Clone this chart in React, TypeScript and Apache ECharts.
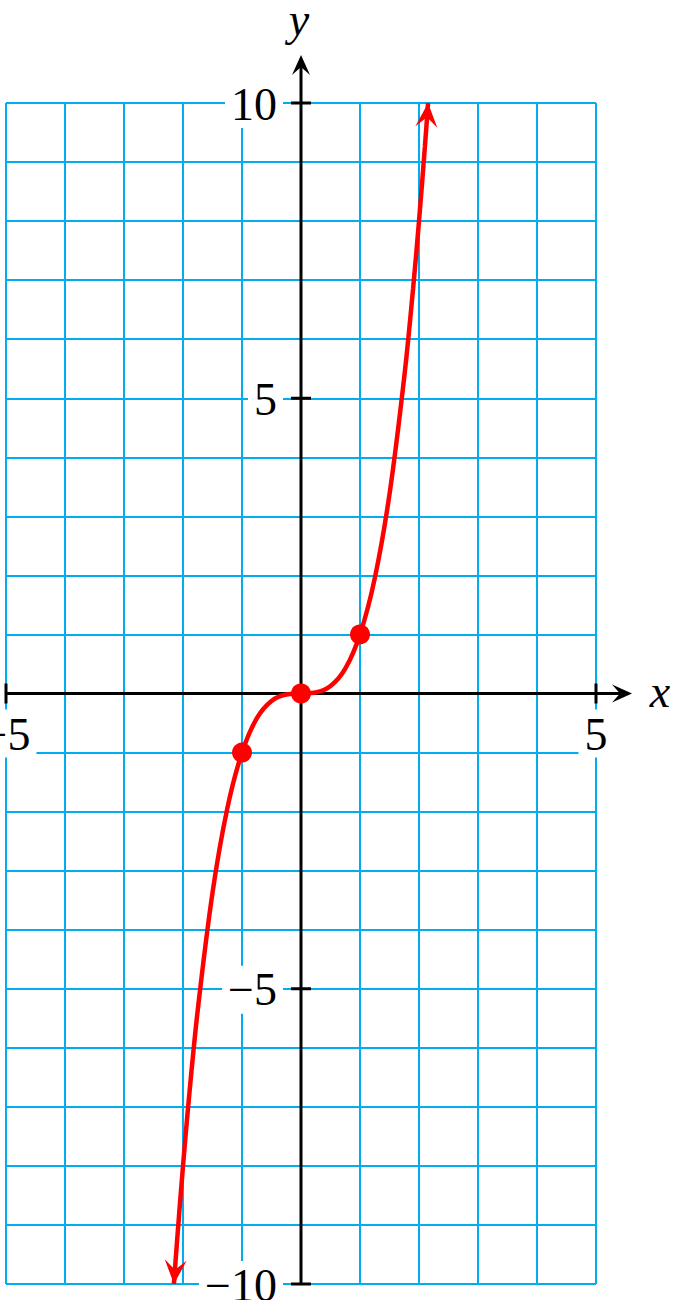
import React, { useEffect, useRef } from "react";
import * as echarts from "echarts";

// Axis ranges and labelled ticks
const xRange = [-5, 5];
const yRange = [-10, 10];
const xLabelTicks = [-5, 5];
const yLabelTicks = [-10, -5, 5, 10];

// Curve (y = x³ shape)
const curveX = [-2.154, -2.1, -2.0, -1.9, -1.75, -1.5, -1.25, -1.0, -0.75, -0.5, -0.25, 0, 0.25, 0.5, 0.75, 1.0, 1.25, 1.5, 1.75, 1.9, 2.0, 2.1, 2.154];
const curveY = [-10, -9.26, -8, -6.86, -5.36, -3.375, -1.95, -1, -0.42, -0.125, -0.016, 0, 0.016, 0.125, 0.42, 1, 1.95, 3.375, 5.36, 6.86, 8, 9.26, 10];

// Highlighted points
const pointX = [-1, 0, 1];
const pointY = [-1, 0, 1];

const FONT = "'Liberation Serif', 'DejaVu Serif', serif";
const GRID_BLUE = "#00AEEF";
const RED = "#FF0000";

function fmtNum(v: number) {
  return v < 0 ? "\u2212" + Math.abs(v) : String(v);
}

function arrowPoints(tip: number[], from: number[], L: number, W: number) {
  const dx = tip[0] - from[0];
  const dy = tip[1] - from[1];
  const len = Math.sqrt(dx * dx + dy * dy) || 1;
  const ux = dx / len, uy = dy / len;
  const nx = -uy, ny = ux;
  return [
    [tip[0], tip[1]],
    [tip[0] - L * ux + W * nx, tip[1] - L * uy + W * ny],
    [tip[0] - 0.6 * L * ux, tip[1] - 0.6 * L * uy],
    [tip[0] - L * ux - W * nx, tip[1] - L * uy - W * ny],
  ];
}

export default function App() {
  const ref = useRef<HTMLDivElement>(null);

  useEffect(() => {
    if (!ref.current) return;
    const chart = echarts.init(ref.current, undefined, { renderer: "svg" });

    const curveData = curveX.map((x, i) => [x, curveY[i]]);
    const n = curveX.length;
    const endArrows = [
      [curveX[n - 1], curveY[n - 1], curveX[n - 2], curveY[n - 2]],
      [curveX[0], curveY[0], curveX[1], curveY[1]],
    ];

    const labelStyle = {
      font: "46px " + FONT,
      fill: "#000",
      backgroundColor: "#fff",
      padding: [2, 6, 0, 6],
    };

    chart.setOption({
      animation: false,
      grid: {
        left: 6,
        right: 83,
        top: 103,
        bottom: 16,
        containLabel: false,
        outerBoundsMode: "none",
      },
      xAxis: {
        type: "value",
        min: xRange[0],
        max: xRange[1],
        interval: 1,
        axisLine: { show: false },
        axisTick: { show: false },
        axisLabel: { show: false },
        splitLine: { show: true, lineStyle: { color: GRID_BLUE, width: 2 } },
      },
      yAxis: {
        type: "value",
        min: yRange[0],
        max: yRange[1],
        interval: 1,
        axisLine: { show: false },
        axisTick: { show: false },
        axisLabel: { show: false },
        splitLine: { show: true, lineStyle: { color: GRID_BLUE, width: 2 } },
      },
      series: [
        {
          type: "custom",
          clip: false,
          z: 2,
          silent: true,
          data: [[0]],
          renderItem: (params: any, api: any) => {
            const o = api.coord([0, 0]);
            const xl = api.coord([xRange[0], 0]);
            const xr = api.coord([xRange[1], 0]);
            const yb = api.coord([0, yRange[0]]);
            const yt = api.coord([0, yRange[1]]);
            const xTip = [xr[0] + 36, o[1]];
            const yTip = [o[0], yt[1] - 48];
            const children: any[] = [];
            const axisStyle = { stroke: "#000", lineWidth: 3 };
            // tick labels (white boxes over the grid)
            xLabelTicks.forEach((t) => {
              const p = api.coord([t, 0]);
              children.push({
                type: "text",
                x: p[0],
                y: o[1] + 16,
                style: { ...labelStyle, text: fmtNum(t), align: "center", verticalAlign: "top" },
              });
            });
            yLabelTicks.forEach((t) => {
              const p = api.coord([0, t]);
              children.push({
                type: "text",
                x: o[0] - 18,
                y: p[1] + 1,
                style: { ...labelStyle, text: fmtNum(t), align: "right", verticalAlign: "middle" },
              });
            });
            children.push({
              type: "line",
              shape: { x1: xl[0], y1: o[1], x2: xTip[0] - 8, y2: o[1] },
              style: axisStyle,
            });
            children.push({
              type: "line",
              shape: { x1: o[0], y1: yb[1], x2: o[0], y2: yTip[1] + 8 },
              style: axisStyle,
            });
            children.push({
              type: "polygon",
              shape: { points: arrowPoints(xTip, [xTip[0] - 10, xTip[1]], 20, 9) },
              style: { fill: "#000" },
            });
            children.push({
              type: "polygon",
              shape: { points: arrowPoints(yTip, [yTip[0], yTip[1] + 10], 20, 9) },
              style: { fill: "#000" },
            });
            xLabelTicks.forEach((t) => {
              const p = api.coord([t, 0]);
              children.push({
                type: "line",
                shape: { x1: p[0], y1: p[1] - 10, x2: p[0], y2: p[1] + 10 },
                style: axisStyle,
              });
            });
            yLabelTicks.forEach((t) => {
              const p = api.coord([0, t]);
              children.push({
                type: "line",
                shape: { x1: p[0] - 10, y1: p[1], x2: p[0] + 10, y2: p[1] },
                style: axisStyle,
              });
            });
            children.push({
              type: "text",
              x: xTip[0] + 28,
              y: o[1] - 2,
              style: {
                text: "x",
                font: "italic 46px " + FONT,
                fill: "#000",
                align: "center",
                verticalAlign: "middle",
              },
            });
            children.push({
              type: "text",
              x: o[0] - 2,
              y: yt[1] - 84,
              style: {
                text: "y",
                font: "italic 46px " + FONT,
                fill: "#000",
                align: "center",
                verticalAlign: "middle",
              },
            });
            return { type: "group", children };
          },
        },
        {
          type: "line",
          data: curveData,
          smooth: 0.35,
          showSymbol: false,
          symbol: "none",
          clip: false,
          z: 3,
          lineStyle: { color: RED, width: 4.5 },
        },
        {
          type: "custom",
          clip: false,
          z: 4,
          data: endArrows,
          renderItem: (params: any, api: any) => {
            const tip = api.coord([api.value(0), api.value(1)]);
            const from = api.coord([api.value(2), api.value(3)]);
            return {
              type: "polygon",
              shape: { points: arrowPoints(tip, from, 24, 11) },
              style: { fill: RED },
            };
          },
        },
        {
          type: "scatter",
          data: pointX.map((x, i) => [x, pointY[i]]),
          symbol: "circle",
          symbolSize: 20,
          z: 5,
          itemStyle: { color: RED, opacity: 1 },
        },
      ],
    });

    return () => chart.dispose();
  }, []);

  return (
    <div
      ref={ref}
      style={{ position: "fixed", left: 0, top: 0, width: 679, height: 1300, background: "#fff" }}
    />
  );
}
